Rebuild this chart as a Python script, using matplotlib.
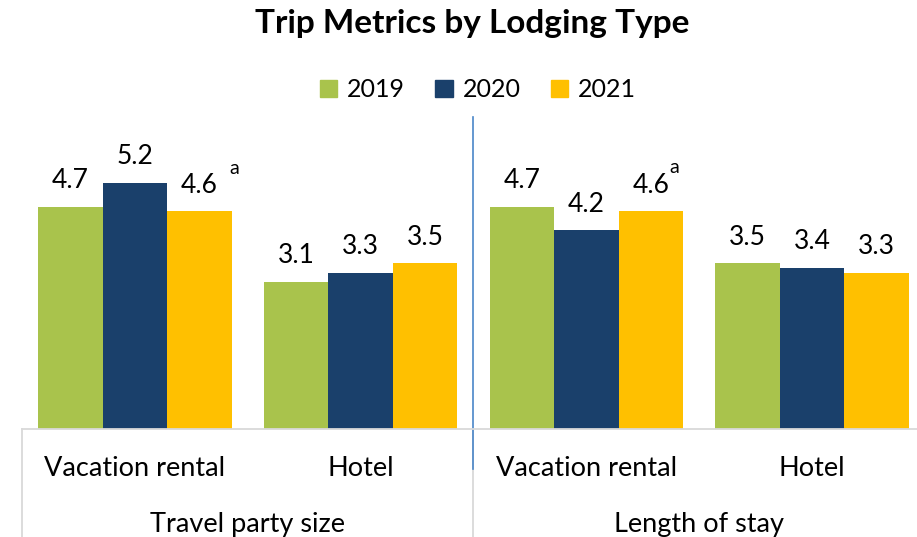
import numpy as np
import matplotlib.pyplot as plt
from matplotlib.patches import Patch

plt.rcParams['font.family'] = ['Lato', 'DejaVu Sans']

years = ['2019', '2020', '2021']
lodging = ['Vacation rental', 'Hotel', 'Vacation rental', 'Hotel']
metrics = ['Travel party size', 'Length of stay']
vals_2019 = [4.7, 3.1, 4.7, 3.5]
vals_2020 = [5.2, 3.3, 4.2, 3.4]
vals_2021 = [4.6, 3.5, 4.6, 3.3]
colors = ['#A9C34C', '#1A406B', '#FFC000']

fig = plt.figure(figsize=(9.17, 5.37), dpi=100)
ax = fig.add_axes([22 / 917, (537 - 428.5) / 537, 903 / 917, 311.5 / 537])

x = np.arange(len(lodging))
w = 0.2857
series = [vals_2019, vals_2020, vals_2021]
for i, (yr, v, c) in enumerate(zip(years, series, colors)):
    pos = x + (i - 1) * w
    ax.bar(pos, v, width=w, color=c, label=yr)
    for xx, vv in zip(pos, v):
        ax.annotate(f'{vv:.1f}', (xx, vv), xytext=(0, 13.5), textcoords='offset points',
                    ha='center', va='baseline', fontsize=19)

# footnote markers on the 2021 vacation rental labels
ax.annotate('a', (x[0] + w, vals_2021[0]), xytext=(25, 27), textcoords='offset points',
            ha='center', va='baseline', fontsize=14)
ax.annotate('a', (x[2] + w, vals_2021[2]), xytext=(17, 28), textcoords='offset points',
            ha='center', va='baseline', fontsize=14)

ax.set_xlim(-0.5, 3.5)
ax.set_ylim(0, 6.6)
ax.set_yticks([])
ax.set_xticks([])
for s in ['top', 'left', 'right']:
    ax.spines[s].set_visible(False)
ax.spines['bottom'].set_color('#D9D9D9')
ax.spines['bottom'].set_linewidth(1.3)

# multi-level category axis
trans = ax.get_xaxis_transform()
for b in [-0.5, 1.5, 3.5]:
    ax.plot([b, b], [0, -0.36], color='#D9D9D9', lw=1.3, transform=trans, clip_on=False)
ax.plot([1.5, 1.5], [1.0, -0.13], color='#4A86C8', lw=1.2, transform=trans, clip_on=False)
for xx, lab in zip(x, lodging):
    ax.text(xx, -0.153, lab, transform=trans, ha='center', va='baseline', fontsize=19.5)
for k, m in enumerate(metrics):
    ax.text(2 * k + 0.5, -0.333, m, transform=trans, ha='center', va='baseline', fontsize=19.5)

fig.text(472 / 917, 1 - 23 / 537, 'Trip Metrics by Lodging Type', ha='center', va='center',
         fontsize=24, fontweight='bold')
handles = [Patch(color=c, label=yr) for yr, c in zip(years, colors)]
fig.legend(handles=handles, loc='center', bbox_to_anchor=(478 / 917, 1 - 90 / 537), ncol=3,
           frameon=False, fontsize=18, handlelength=0.7, handleheight=0.7,
           handletextpad=0.4, columnspacing=1.2)

fig.savefig('out.png', dpi=100)
